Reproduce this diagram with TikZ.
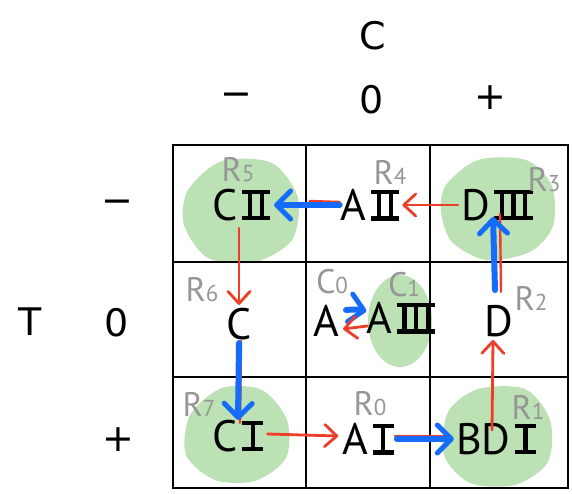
\documentclass[tikz,border=0pt]{standalone}
\usepackage{fontspec}
\setmainfont{PT Sans}
\newfontfamily\symfont{DejaVu Sans}
\usetikzlibrary{arrows.meta}
\definecolor{blobgreen}{RGB}{188,225,180}
\definecolor{arrred}{RGB}{236,62,40}
\definecolor{arrblue}{RGB}{22,108,250}
\definecolor{taggray}{RGB}{150,150,150}
% region tag: letter with a smaller index
\newcommand{\rtag}[2]{#1{\fontsize{23}{23}\selectfont #2}}
% barred roman numerals built from rules
\newcommand{\romstroke}[1]{\put(#1,0){\rule{0.1em}{0.7em}}}
\newcommand{\rombars}[1]{\put(0,0){\rule{#1em}{0.1em}}\put(0,0.6){\rule{#1em}{0.1em}}}
\newcommand{\rI}{\kern0.1em{\setlength{\unitlength}{1em}\begin{picture}(0.48,0.7)\rombars{0.48}\romstroke{0.19}\end{picture}}}
\newcommand{\rII}{\kern0.1em{\setlength{\unitlength}{1em}\begin{picture}(0.64,0.7)\rombars{0.64}\romstroke{0.135}\romstroke{0.405}\end{picture}}}
\newcommand{\rIII}{\kern0.1em{\setlength{\unitlength}{1em}\begin{picture}(0.88,0.7)\rombars{0.88}\romstroke{0.125}\romstroke{0.39}\romstroke{0.655}\end{picture}}}
\begin{document}
\begin{tikzpicture}[x=1pt,y=-1pt,
  state/.style={font=\fontsize{44}{44}\selectfont, inner sep=1pt},
  axislabel/.style={font=\symfont\fontsize{38}{38}\selectfont, inner sep=1pt},
  tag/.style={text=taggray, font=\fontsize{34}{34}\selectfont, inner sep=0pt},
  blob/.style={fill=blobgreen, draw=none},
  gridline/.style={line width=2.6pt, black},
  redarrow/.style={draw=arrred, line width=2.8pt, line cap=round,
    -{Straight Barb[length=12pt,width=22pt,line width=2.8pt,round]}},
  redtrace/.style={draw=arrred, line width=2.4pt, line cap=round},
  bluearrow/.style={draw=arrblue, line width=6pt, line cap=round,
    -{Straight Barb[length=14pt,width=28pt,line width=5pt,round]}}]
\useasboundingbox (0,0) rectangle (572,494);

% green regions
\fill[blob] plot[smooth cycle] coordinates {(188,190) (222,161) (272,163) (298,198) (292,240) (255,262) (208,258) (184,225)};
\fill[blob] plot[smooth cycle] coordinates {(446,185) (478,160) (526,160) (552,186) (553,226) (530,252) (486,260) (452,242) (441,212)};
\fill[blob] (400,321) ellipse [x radius=32, y radius=46];
\fill[blob] plot[smooth cycle] coordinates {(190,415) (222,388) (262,390) (287,420) (286,458) (255,481) (215,480) (186,455)};
\fill[blob] plot[smooth cycle] coordinates {(448,412) (478,389) (525,389) (550,420) (548,462) (515,485) (470,483) (444,455)};

% table grid
\draw[gridline] (173,145) rectangle (568,488);
\draw[gridline] (306,145) -- (306,488);
\draw[gridline] (430,145) -- (430,488);
\draw[gridline] (173,262) -- (568,262);
\draw[gridline] (173,377) -- (568,377);

% axis labels
\node[axislabel] (cax) at (373,36) {C};
\node[axislabel] (cminus) at (236,100) {−};
\node[axislabel] (czero) at (372,100) {0};
\node[axislabel] (cplus) at (490,98) {+};
\node[axislabel] (tax) at (30,322) {T};
\node[axislabel] (tminus) at (117,207) {−};
\node[axislabel] (tzero) at (117,323) {0};
\node[axislabel] (tplus) at (118,440) {+};

% states
\node[state] (cII) at (241,205) {C\rII};
\node[state] (aII) at (370,205) {A\rII};
\node[state] (dIII) at (497,205) {D\rIII};
\node[state] (c) at (239,324) {C};
\node[state] (a) at (326,321) {A};
\node[state] (aIII) at (401,318) {A\rIII};
\node[state] (d) at (499,321) {D};
\node[state] (cI) at (238,436) {C\rI};
\node[state] (aI) at (368,439) {A\rI};
\node[state] (bdI) at (496,439) {BD\rI};

% region tags
\node[tag] (r5) at (238,170) {\rtag{R}{5}};
\node[tag] (r4) at (390,172) {\rtag{R}{4}};
\node[tag] (r3) at (544,180) {\rtag{R}{3}};
\node[tag] (r6) at (202,290) {\rtag{R}{6}};
\node[tag] (c0) at (332,282) {\rtag{C}{0}};
\node[tag] (c1) at (404,285) {\rtag{C}{1}};
\node[tag] (r2) at (531,298) {\rtag{R}{2}};
\node[tag] (r7) at (199,404) {\rtag{R}{7}};
\node[tag] (r0) at (370,404) {\rtag{R}{0}};
\node[tag] (r1) at (528,407) {\rtag{R}{1}};

% faint red strokes left under the blue transitions
\draw[redtrace] ([yshift=3pt]aII.west) -- ([xshift=-30pt,yshift=4pt]aII.west);
\draw[redtrace] ([xshift=2pt]c.south) -- ([xshift=2pt,yshift=-4pt]cI.north);
\draw[redtrace] ([yshift=3pt]aI.east) -- ([xshift=-4pt,yshift=3pt]bdI.west);
\draw[redtrace] ([xshift=2pt,yshift=12pt]d.north) -- ([xshift=3pt,yshift=8pt]dIII.south);

% transitions
\draw[bluearrow] (aII.west) -- ([xshift=3pt]cII.east);
\draw[redarrow] ([xshift=-2pt]dIII.west) -- ([xshift=2pt]aII.east);
\draw[redarrow] ([yshift=-6pt]cII.south -| c.north) -- ([yshift=2pt]c.north);
\draw[bluearrow] ([yshift=-2pt]c.south) -- ([yshift=-1pt]cI.north);
\draw[redarrow] ([xshift=3pt,yshift=2pt]cI.east) -- ([xshift=-3pt,yshift=3pt]aI.west);
\draw[bluearrow] ([xshift=2pt]aI.east) -- ([xshift=-1pt]bdI.west);
\draw[redarrow] ([xshift=-4pt,yshift=-8pt]bdI.north) -- ([xshift=-6pt,yshift=-2pt]d.south);
\draw[bluearrow] ([xshift=-4pt,yshift=14pt]d.north) -- ([xshift=-4pt,yshift=5pt]dIII.south);
\draw[bluearrow] ([xshift=6pt,yshift=11pt]a.east) to[bend left=8] ([xshift=1pt,yshift=7pt]aIII.west);
\draw[redarrow] ([xshift=2pt,yshift=-8pt]aIII.west) -- ([xshift=3pt,yshift=-8pt]a.east);
\end{tikzpicture}
\end{document}
